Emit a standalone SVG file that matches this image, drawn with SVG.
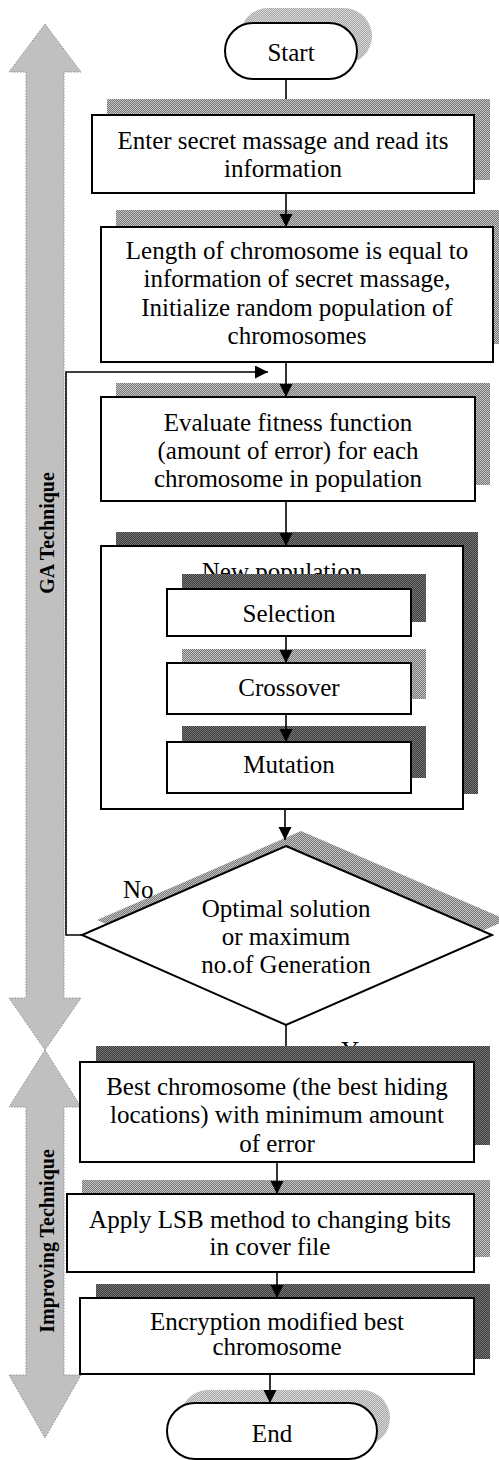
<svg xmlns="http://www.w3.org/2000/svg" width="499" height="1460" viewBox="0 0 499 1460">
<defs>
<pattern id="pDark" width="2" height="2" patternUnits="userSpaceOnUse"><rect width="2" height="2" fill="#3c3c3c"/><rect width="1" height="1" fill="#777"/><rect x="1" y="1" width="1" height="1" fill="#777"/></pattern>
<pattern id="pMed" width="2" height="2" patternUnits="userSpaceOnUse"><rect width="2" height="2" fill="#777"/><rect width="1" height="1" fill="#c4c4c4"/><rect x="1" y="1" width="1" height="1" fill="#c4c4c4"/></pattern>
<pattern id="pLight" width="2" height="2" patternUnits="userSpaceOnUse"><rect width="2" height="2" fill="#a8a8a8"/><rect width="1" height="1" fill="#d8d8d8"/><rect x="1" y="1" width="1" height="1" fill="#d8d8d8"/></pattern>
<marker id="ah" markerUnits="userSpaceOnUse" markerWidth="13" markerHeight="14" refX="13" refY="6.5" orient="auto"><path d="M0,0 L13,6.5 L0,13 Z" fill="#000"/></marker>
<style>
.box{fill:#fff;stroke:#000;stroke-width:2}
.t{font-family:"Liberation Serif","Times New Roman",serif;font-size:25px;fill:#000;text-anchor:middle}
.ts{font-family:"Liberation Serif","Times New Roman",serif;font-size:25px;fill:#000;text-anchor:start}
.lbl{font-family:"Liberation Serif","Times New Roman",serif;font-size:20px;font-weight:bold;fill:#000;text-anchor:middle}
.band{fill:#c0c0c0;stroke:#8c8c8c;stroke-width:1;stroke-dasharray:1.5 1.5}
.c{fill:none;stroke:#000;stroke-width:1.6}
.sd{fill:url(#pDark)}
.sm{fill:url(#pMed)}
.sl{fill:url(#pLight)}
</style>
</defs>
<rect width="499" height="1460" fill="#fff"/>

<g id="band-ga">
<polygon class="band" points="45,24 81,72 64,72 64,998 81,998 45,1050 9,998 26,998 26,72 9,72"/>
<text class="lbl" transform="translate(47,533) rotate(-90)" y="7">GA Technique</text>
</g>
<g id="band-improving">
<polygon class="band" points="45,1050 81,1107 64,1107 64,1375 81,1375 45,1438 9,1375 26,1375 26,1107 9,1107"/>
<text class="lbl" transform="translate(47,1241) rotate(-90)" y="7">Improving Technique</text>
</g>

<g id="label-yes">
<text class="ts" x="341" y="1059">Y</text>
</g>

<g id="start">
<rect class="sl" x="240" y="8" width="132" height="56" rx="28"/>
<rect class="box" x="225" y="23" width="132" height="56" rx="28"/>
<text class="t" x="291" y="61">Start</text>
</g>

<g id="enter">
<rect class="sm" x="107" y="99" width="383" height="81"/>
<rect class="box" x="92" y="115" width="382" height="78"/>
<text class="t" x="283" y="149">Enter secret massage and read its</text>
<text class="t" x="283" y="177">information</text>
</g>

<g id="length">
<rect class="sm" x="116" y="210" width="392" height="134"/>
<rect class="box" x="101" y="227" width="392" height="135"/>
<text class="t" x="297" y="259">Length of chromosome is equal to</text>
<text class="t" x="297" y="287">information of secret massage,</text>
<text class="t" x="297" y="316">Initialize random population of</text>
<text class="t" x="297" y="344">chromosomes</text>
</g>

<g id="evaluate">
<rect class="sm" x="116" y="383" width="374" height="102"/>
<rect class="box" x="101" y="397" width="374" height="104"/>
<text class="t" x="288" y="431">Evaluate fitness function</text>
<text class="t" x="288" y="459">(amount of error) for each</text>
<text class="t" x="288" y="487">chromosome in population</text>
</g>

<g id="new-population">
<rect class="sd" x="116" y="532" width="362" height="262"/>
<rect class="box" x="101" y="546" width="362" height="263"/>
<text class="t" x="282" y="580">New population</text>
</g>

<g id="selection">
<rect class="sd" x="182" y="574" width="244" height="48"/>
<rect class="box" x="167" y="589" width="244" height="47"/>
<text class="t" x="289" y="622">Selection</text>
</g>

<g id="crossover">
<rect class="sm" x="182" y="649" width="244" height="50"/>
<rect class="box" x="167" y="663" width="244" height="51"/>
<text class="t" x="289" y="696">Crossover</text>
</g>

<g id="mutation">
<rect class="sd" x="182" y="726" width="244" height="52"/>
<rect class="box" x="167" y="742" width="244" height="51"/>
<text class="t" x="289" y="773">Mutation</text>
</g>

<g id="decision">
<polygon class="sm" points="301,831 507,920 301,1010 97,920"/>
<polygon class="box" points="286,846 492,935 286,1025 82,935"/>
<text class="t" x="286" y="917">Optimal solution</text>
<text class="t" x="286" y="945">or maximum</text>
<text class="t" x="286" y="973">no.of Generation</text>
</g>

<g id="best">
<rect class="sd" x="96" y="1046" width="394" height="99"/>
<rect class="box" x="80" y="1062" width="394" height="100"/>
<text class="t" x="277" y="1095">Best chromosome (the best hiding</text>
<text class="t" x="277" y="1123">locations) with minimum amount</text>
<text class="t" x="277" y="1152">of error</text>
</g>

<g id="apply">
<rect class="sm" x="82" y="1180" width="408" height="77"/>
<rect class="box" x="67" y="1194" width="407" height="78"/>
<text class="t" x="270" y="1228">Apply LSB method to changing bits</text>
<text class="t" x="270" y="1255">in cover file</text>
</g>

<g id="encryption">
<rect class="sd" x="96" y="1284" width="394" height="75"/>
<rect class="box" x="80" y="1298" width="394" height="76"/>
<text class="t" x="277" y="1330">Encryption modified best</text>
<text class="t" x="277" y="1355">chromosome</text>
</g>

<g id="end">
<rect class="sl" x="180" y="1390" width="210" height="56" rx="28"/>
<rect class="box" x="167" y="1403" width="210" height="56" rx="28"/>
<text class="t" x="272" y="1442">End</text>
</g>

<g id="connectors">
<line class="c" x1="286" y1="80" x2="286" y2="99"/>
<line class="c" x1="286" y1="194" x2="286" y2="227" marker-end="url(#ah)"/>
<line class="c" x1="286" y1="363" x2="286" y2="397" marker-end="url(#ah)"/>
<line class="c" x1="286" y1="502" x2="286" y2="546" marker-end="url(#ah)"/>
<line class="c" x1="286" y1="637" x2="286" y2="663" marker-end="url(#ah)"/>
<line class="c" x1="286" y1="715" x2="286" y2="742" marker-end="url(#ah)"/>
<line class="c" x1="285" y1="810" x2="285" y2="840" marker-end="url(#ah)"/>
<line class="c" x1="286" y1="1025" x2="286" y2="1046"/>
<line class="c" x1="277" y1="1163" x2="277" y2="1194" marker-end="url(#ah)"/>
<line class="c" x1="277" y1="1273" x2="277" y2="1298" marker-end="url(#ah)"/>
<line class="c" x1="270" y1="1375" x2="270" y2="1403" marker-end="url(#ah)"/>
<path class="c" d="M82,935 H66 V372 H268" marker-end="url(#ah)"/>
<text class="ts" x="123" y="898">No</text>
</g>
</svg>
